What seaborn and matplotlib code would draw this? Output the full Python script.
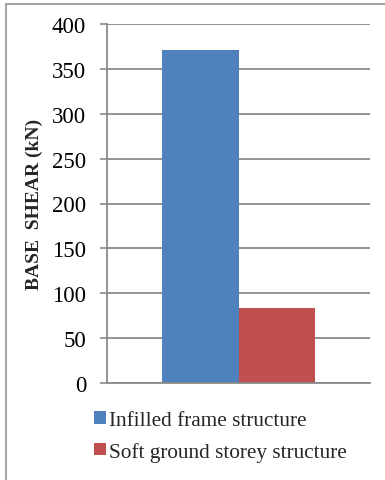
import matplotlib
matplotlib.use("Agg")
import matplotlib.pyplot as plt
import seaborn as sns
import pandas as pd
from matplotlib.patches import Rectangle

# Base shear of the two structural models
structures = ["Infilled frame structure", "Soft ground storey structure"]
base_shear = [371, 84]
colors = ["#4F81BD", "#C0504D"]
y_ticks = [0, 50, 100, 150, 200, 250, 300, 350, 400]

df = pd.DataFrame({"group": [""] * len(structures),
                   "structure": structures,
                   "shear": base_shear})

sns.set_theme(style="white")
SERIF = ["Liberation Serif", "DejaVu Serif"]
plt.rcParams["font.family"] = SERIF
plt.rcParams["font.serif"] = SERIF

W, H = 385, 481
fig = plt.figure(figsize=(W / 100, H / 100), dpi=100)
ax = fig.add_axes([107 / W, 1 - 384 / H, (370 - 107) / W, (384 - 25) / H])

sns.barplot(data=df, x="group", y="shear", hue="structure",
            palette=colors, width=0.578, saturation=1, ax=ax,
            linewidth=0, edgecolor="none", legend=True)

grid_c = "#8A8A8A"
ax.set_ylim(0, 400)
ax.set_xlim(-0.5, 0.5)
ax.set_yticks(y_ticks)
ax.set_yticklabels([str(t) for t in y_ticks], fontsize=16.5, family=SERIF)
ax.set_xticks([])
ax.set_xlabel("")
ax.yaxis.grid(True, color=grid_c, linewidth=1.3)
ax.set_axisbelow(True)
ax.tick_params(axis="y", length=5, width=1.2, color=grid_c, pad=10,
               left=True, labelcolor="black")
for s in ["top", "right"]:
    ax.spines[s].set_visible(False)
for s in ["left", "bottom"]:
    ax.spines[s].set_color(grid_c)
    ax.spines[s].set_linewidth(1.3)

ax.set_ylabel("BASE  SHEAR (kN)", fontsize=14, fontweight="bold",
              family=SERIF)
ax.yaxis.set_label_coords(-0.245, 0.5)

handles, labels = ax.get_legend_handles_labels()
ax.legend_.remove()
fig.legend(handles, labels, loc="upper left",
           bbox_to_anchor=(94 / W, 1 - 412 / H), frameon=False,
           prop={"family": SERIF, "size": 15.3}, handlelength=0.55,
           handleheight=0.55, handletextpad=0.15, labelspacing=0.55,
           borderpad=0, borderaxespad=0)

# chart frame
fig.patches.append(Rectangle((6 / W, -0.1), 1.2, 1 - 5 / H + 0.1,
                             transform=fig.transFigure, fill=False,
                             edgecolor="#A6A6A6", linewidth=1.5))

fig.savefig("out.png", dpi=100)
